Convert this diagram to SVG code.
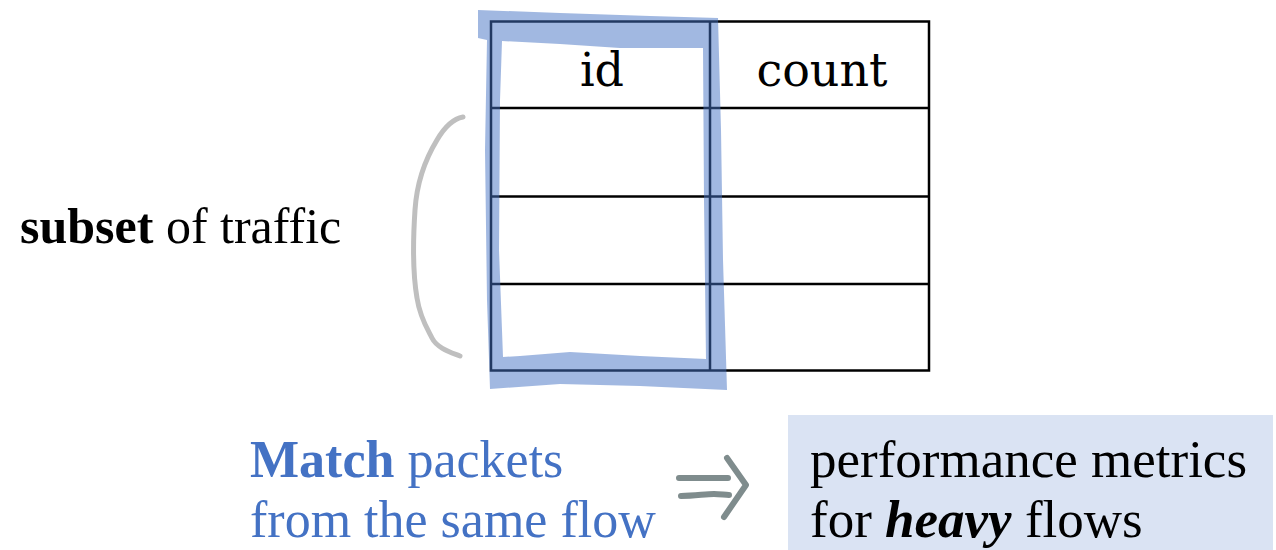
<svg xmlns="http://www.w3.org/2000/svg" width="1276" height="550" viewBox="0 0 1276 550">
  <style>
    .grid { fill: none; stroke: #000; stroke-width: 2.5; }
    .cell { font-family: "DejaVu Serif", "Liberation Serif", serif; font-size: 46px; fill: #000; }
    .gar { font-family: "Liberation Serif", "DejaVu Serif", serif; font-size: 52px; }
    .ink { fill: none; stroke-linecap: round; stroke-linejoin: round; }
  </style>
  <rect width="1276" height="550" fill="#fff"/>

  <!-- table: id / count, four rows -->
  <g id="table">
    <rect class="grid" x="491" y="21.5" width="438" height="349"/>
    <line class="grid" x1="710" y1="21.5" x2="710" y2="370.5"/>
    <line class="grid" x1="491" y1="108" x2="929" y2="108"/>
    <line class="grid" x1="491" y1="196.5" x2="929" y2="196.5"/>
    <line class="grid" x1="491" y1="284" x2="929" y2="284"/>
    <text class="cell" x="602" y="86" text-anchor="middle">id</text>
    <text class="cell" x="822" y="86" text-anchor="middle">count</text>
  </g>

  <!-- hand-drawn highlight around the id column -->
  <g id="highlight">
    <path fill="#4472c4" fill-opacity="0.5" fill-rule="evenodd"
          d="M478,10 L560,13 L650,16 L718,18 L721,130 L723,260 L727,390 L640,386 L560,384 L490,389 L487,300 L485,150 L487,40 L478,38 Z
             M502,41 L560,44 L620,48 L703,48 L704,200 L706,359 L640,356 L570,352 L520,356 L503,357 L499,250 L500,100 Z"/>
  </g>

  <!-- bracket marking a subset of rows -->
  <g id="bracket">
    <path class="ink" stroke="#bfbfbf" stroke-width="5"
          d="M463,117 C452,119 444,128 437,140 C426,158 417,180 415,210 C413,240 413,275 417,298 C420,318 428,330 432,338 C437,348 450,352 460,356"/>
  </g>

  <g id="subset-label">
    <text class="gar" x="20" y="243" fill="#000" style="font-size:50px"><tspan font-weight="bold">subset</tspan> of traffic</text>
  </g>

  <g id="match-label">
    <text class="gar" fill="#4472c4">
      <tspan x="250" y="477"><tspan font-weight="bold">Match</tspan> packets</tspan>
      <tspan x="250" y="537">from the same flow</tspan>
    </text>
  </g>

  <!-- implies arrow -->
  <g id="connectors">
    <path class="ink" stroke="#7f8c8d" stroke-width="6"
          d="M679,478 L728,478 M681,496 C695,496 705,494 714,494 C720,494 725,495 729,495 M727,458 L746,485 L724,517"/>
  </g>

  <g id="result">
    <rect x="788" y="415" width="485" height="135" fill="#dae3f3"/>
    <text class="gar" fill="#000" style="font-size:53px">
      <tspan x="810" y="477">performance metrics</tspan>
      <tspan x="810" y="537">for <tspan font-weight="bold" font-style="italic">heavy</tspan> flows</tspan>
    </text>
  </g>
</svg>
